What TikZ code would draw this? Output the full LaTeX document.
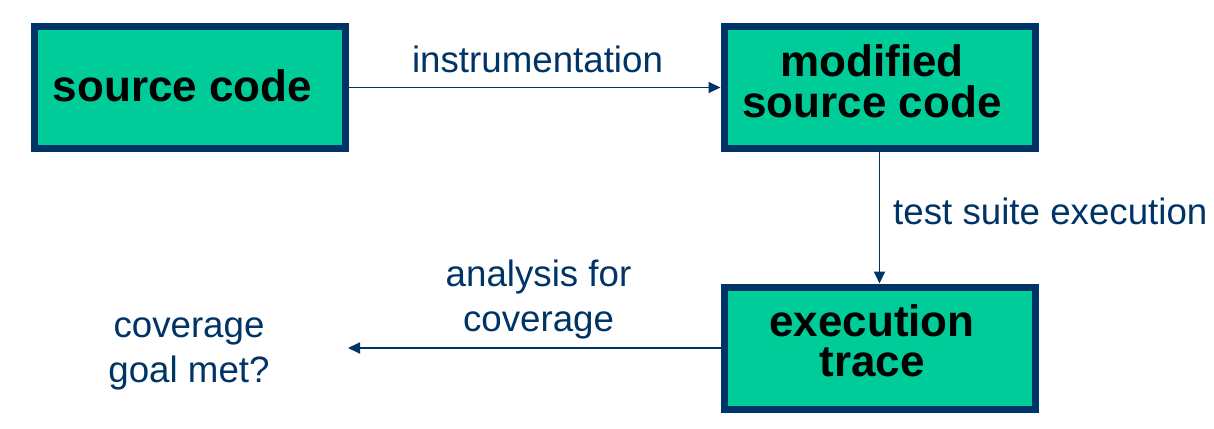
\documentclass[tikz,border=0pt]{standalone}
\usepackage{fontspec}
\setmainfont{Liberation Sans}
\usetikzlibrary{arrows.meta}
\definecolor{navy}{RGB}{0,51,102}
\definecolor{boxgreen}{RGB}{0,204,153}
\tikzset{
  block/.style={draw=navy,line width=7pt,fill=boxgreen,inner sep=0pt,
                minimum width=311pt,minimum height=122pt},
  blocktext/.style={inner sep=0pt,anchor=base,align=center,
                font=\bfseries\fontsize{44}{40}\selectfont},
  flowtext/.style={inner sep=0pt,anchor=base,align=center,text=navy,
                font=\fontsize{36.7}{44.5}\selectfont},
  flow/.style={draw=navy,line width=1.8pt,-{Triangle[length=12pt,width=11pt]}}
}
\begin{document}
\begin{tikzpicture}[x=1pt,y=-1pt]
  \useasboundingbox (0,0) rectangle (1214,428);
  \node [block] (src)   at (190,87.5)  {};
  \node [block] (mod)   at (879.5,87.5) {};
  \node [block] (trace) at (879.5,348)  {};
  \coordinate (goal) at (348,348);
  \node [blocktext] (srctxt)   at (182.5,101.7) {source code};
  \node [blocktext] (modtxt)   at (872,117) {modified\\source code};
  \node [blocktext] (tracetxt) at (872,376) {execution\\trace};
  \draw [flow] (src) -- (mod);
  \draw [flow] (mod) -- (trace);
  \draw [flow] (trace) -- (goal);
  \node [flowtext] (instr) at (537.5,72) {instrumentation};
  \node [flowtext,anchor=base west] (suite) at (893,224) {test suite execution};
  \node [flowtext] (analysis) at (538.5,331) {analysis for\\coverage};
  \node [flowtext] (goalq) at (189,382) {coverage\\goal met?};
\end{tikzpicture}
\end{document}
